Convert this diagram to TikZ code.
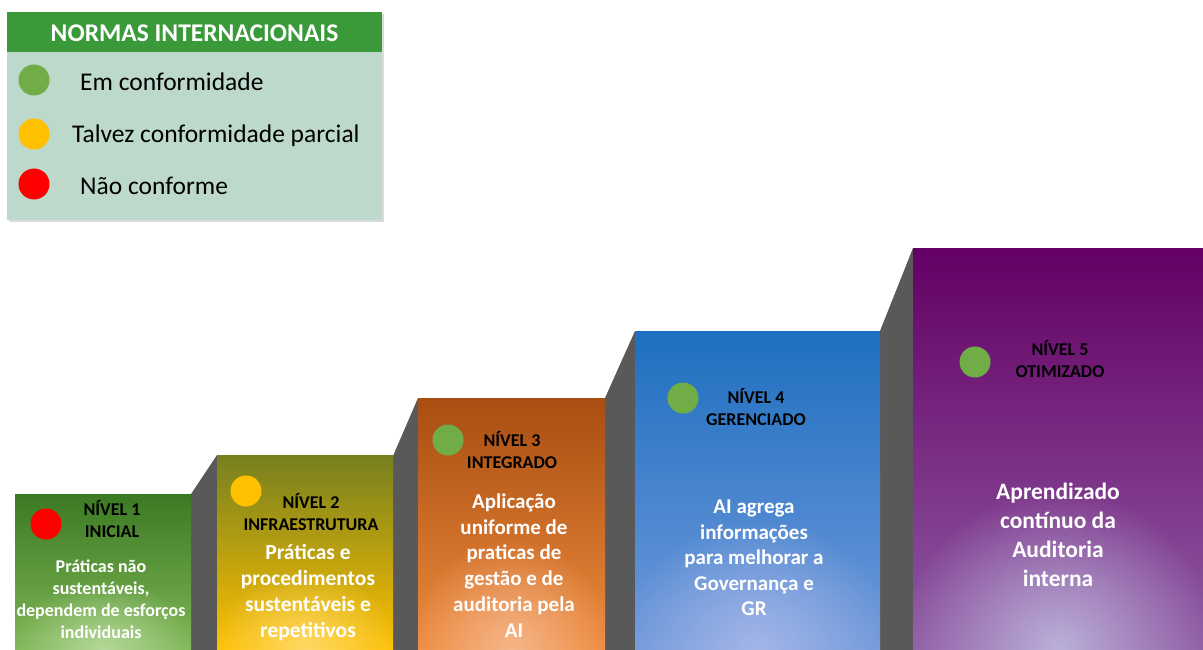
\documentclass[tikz,border=0pt]{standalone}
\usepackage{fontspec}
\setmainfont{Carlito}
\usetikzlibrary{fadings}
\tikzfading[name=glowfade, inner color=transparent!0, outer color=transparent!100]
\definecolor{sidegray}{HTML}{595959}
\definecolor{hdrgreen}{HTML}{3A9A3A}
\definecolor{legbg}{HTML}{BCD9CC}
\definecolor{dotgreen}{HTML}{70AD47}
\definecolor{dotyellow}{HTML}{FFC000}
\definecolor{dotred}{HTML}{FF0000}
\definecolor{sAt}{HTML}{3B7A24}\definecolor{sAb}{HTML}{7FB654}\definecolor{sAg}{HTML}{B5D89A}
\definecolor{sBt}{HTML}{76801F}\definecolor{sBm}{HTML}{C9A40C}\definecolor{sBb}{HTML}{FFC000}\definecolor{sBg}{HTML}{FFD966}
\definecolor{sCt}{HTML}{A84E12}\definecolor{sCb}{HTML}{EE8A3C}\definecolor{sCg}{HTML}{F6B68A}
\definecolor{sDt}{HTML}{1E6FC0}\definecolor{sDb}{HTML}{7099DB}\definecolor{sDg}{HTML}{A4B6E8}
\definecolor{sEt}{HTML}{640064}\definecolor{sEb}{HTML}{8E5AA2}\definecolor{sEg}{HTML}{BBB0DA}
\tikzset{
  side/.style={fill=sidegray, draw=none},
  dot/.style={circle, minimum width=30pt, minimum height=31pt, inner sep=0pt, draw=none},
  lvl/.style={font=\fontsize{18}{22}\selectfont\bfseries, text=black, align=center, inner sep=0pt},
  body/.style={text=white, align=center, inner sep=0pt},
  legtxt/.style={font=\fontsize{25.5}{28}\selectfont, text=black, anchor=west, inner sep=0pt},
}
\begin{document}
\begin{tikzpicture}[x=1pt,y=-1pt]
\useasboundingbox (0,0) rectangle (1203,650);
% legend
\fill[black!14] (9,14) rectangle (384,222);
\fill[legbg] (7,12) rectangle (382,220);
\fill[hdrgreen] (7,12) rectangle (382,52);
\node[font=\fontsize{25.5}{28}\selectfont\bfseries, text=white, inner sep=0pt] (hdr) at (194.5,33) {NORMAS INTERNACIONAIS};
\node[dot, fill=dotgreen] (lg) at (34,80) {};
\node[dot, fill=dotyellow] (ly) at (34,134) {};
\node[dot, fill=dotred] (lr) at (34,184) {};
\node[legtxt] (lgt) at (80,82) {Em conformidade};
\node[legtxt] (lyt) at (72,136) {Talvez conformidade parcial};
\node[legtxt] (lrt) at (80,186) {Não conforme};
% gray sides
\fill[side] (191,650) -- (191,494) -- (217,455) -- (217,650) -- cycle;
\fill[side] (393,650) -- (393,456) -- (418,398) -- (418,650) -- cycle;
\fill[side] (605,650) -- (605,398) -- (635,331) -- (635,650) -- cycle;
\fill[side] (880,650) -- (880,331) -- (913,248) -- (913,650) -- cycle;
% step boxes
\shade[top color=sAt, bottom color=sAb] (15,494) rectangle (191,650);
\begin{scope}\clip (15,494) rectangle (191,650);
\fill[sAg, path fading=glowfade] (103,650) ellipse (95 and 70);\end{scope}
\shade[top color=sBt, middle color=sBm, bottom color=sBb] (217,455) rectangle (393,650);
\begin{scope}\clip (217,455) rectangle (393,650);
\fill[sBg, path fading=glowfade] (305,650) ellipse (95 and 80);\end{scope}
\shade[top color=sCt, bottom color=sCb] (418,398) rectangle (605,650);
\begin{scope}\clip (418,398) rectangle (605,650);
\fill[sCg, path fading=glowfade] (511,650) ellipse (105 and 110);\end{scope}
\shade[top color=sDt, bottom color=sDb] (635,331) rectangle (880,650);
\begin{scope}\clip (635,331) rectangle (880,650);
\fill[sDg, path fading=glowfade] (757,650) ellipse (140 and 130);\end{scope}
\shade[top color=sEt, bottom color=sEb] (913,248) rectangle (1203,650);
\begin{scope}\clip (913,248) rectangle (1203,650);
\fill[sEg, path fading=glowfade] (1058,650) ellipse (160 and 160);\end{scope}
% dots
\node[dot, fill=dotred] (d1) at (46,524) {};
\node[dot, fill=dotyellow] (d2) at (246,491) {};
\node[dot, fill=dotgreen] (d3) at (448,440) {};
\node[dot, fill=dotgreen] (d4) at (683,398) {};
\node[dot, fill=dotgreen] (d5) at (975,362) {};
% level titles
\node[lvl] (t1) at (112,519) {NÍVEL 1\\INICIAL};
\node[lvl] (t2) at (311,512) {NÍVEL 2\\INFRAESTRUTURA};
\node[lvl] (t3) at (512,450) {NÍVEL 3\\INTEGRADO};
\node[lvl] (t4) at (756,407.5) {NÍVEL 4\\GERENCIADO};
\node[lvl] (t5) at (1060,359) {NÍVEL 5\\OTIMIZADO};
% bodies
\node[body, font=\fontsize{18}{22}\selectfont\bfseries] (b1) at (101,599) {Práticas não\\sustentáveis,\\dependem de esforços\\individuais};
\node[body, font=\fontsize{21.5}{26}\selectfont\bfseries] (b2) at (308,593) {Práticas e\\procedimentos\\sustentáveis e\\repetitivos};
\node[body, font=\fontsize{21}{25.8}\selectfont\bfseries] (b3) at (514,565.5) {Aplicação\\uniforme de\\praticas de\\gestão e de\\auditoria pela\\AI};
\node[body, font=\fontsize{21}{25.5}\selectfont\bfseries] (b4) at (754,558) {AI agrega\\informações\\para melhorar a\\Governança e\\GR};
\node[body, font=\fontsize{23.5}{29}\selectfont\bfseries] (b5) at (1058,534.5) {Aprendizado\\contínuo da\\Auditoria\\interna};
\end{tikzpicture}
\end{document}
